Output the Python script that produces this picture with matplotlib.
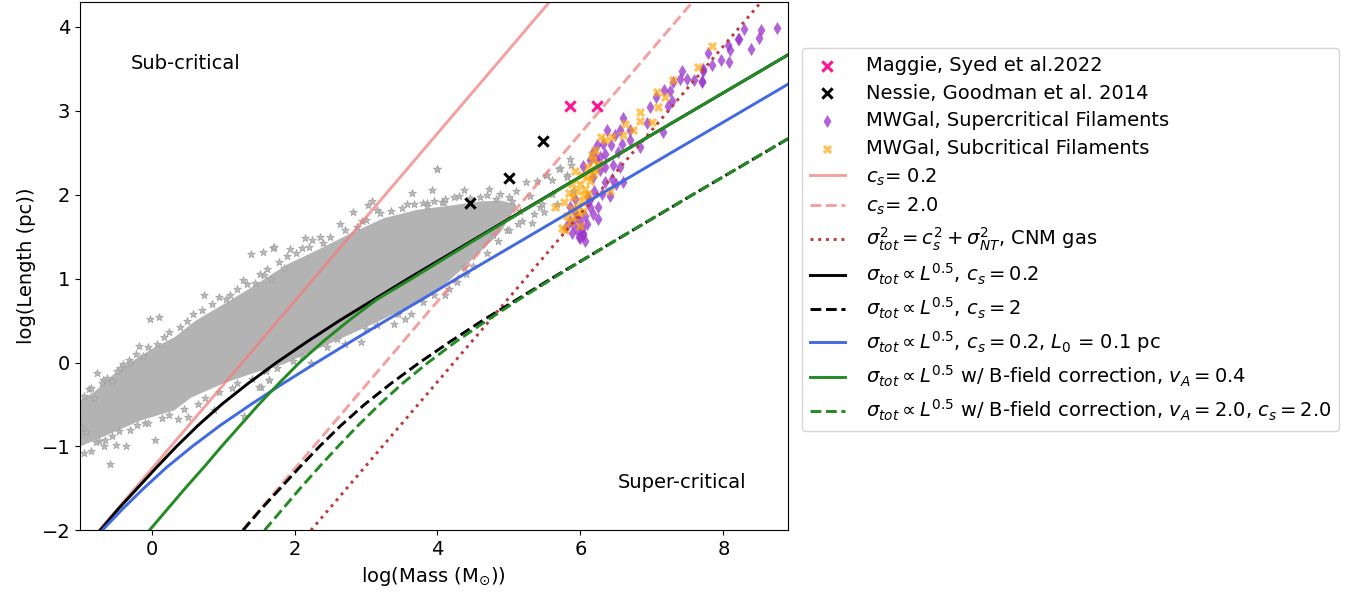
import numpy as np
import matplotlib
matplotlib.use("Agg")
import matplotlib.pyplot as plt

plt.rcParams["font.size"] = 14

# -------------------------------------------------------
# Data (log units)
# -------------------------------------------------------

# Maggie, Syed et al. 2022
maggie_x = [5.86, 6.23]
maggie_y = [3.06, 3.06]

# Nessie, Goodman et al. 2014
nessie_x = [4.46, 5.00, 5.48]
nessie_y = [1.90, 2.20, 2.64]

# MWGal supercritical filaments
super_x = [8.75, 8.52, 8.50, 8.38, 8.22, 8.06, 8.09, 8.08, 7.96, 7.78, 7.84, 7.72,
           7.70, 7.59, 7.49, 7.40, 7.42, 7.30, 7.26, 7.17, 7.28, 7.23, 6.98, 7.06,
           7.15, 6.93, 6.84, 6.60, 6.69, 6.56, 6.37, 6.49, 6.70, 6.58, 6.43, 6.32,
           6.23, 6.18, 6.35, 6.53, 6.04, 6.35, 6.46, 6.56, 6.44, 6.35, 6.60, 6.50,
           6.30, 6.42, 6.19, 6.11, 6.14, 6.25, 6.18, 6.07, 6.00, 5.90, 6.02, 5.95,
           6.09, 6.04, 6.25, 5.80, 5.85, 5.88, 5.93, 5.86, 6.18, 6.14, 6.27, 6.04,
           5.95, 8.29, 8.21, 7.72, 7.70, 6.00, 6.06, 5.98, 6.12, 6.22, 5.92, 6.28]
super_y = [3.99, 3.96, 3.87, 3.74, 3.86, 3.78, 3.72, 3.58, 3.60, 3.69, 3.54, 3.48,
           3.34, 3.37, 3.38, 3.38, 3.47, 3.34, 3.24, 3.25, 3.12, 3.06, 3.04, 3.17,
           2.75, 2.85, 2.57, 2.92, 2.77, 2.77, 2.77, 2.71, 2.65, 2.61, 2.59, 2.61,
           2.59, 2.51, 2.49, 2.51, 2.34, 2.33, 2.35, 2.33, 2.19, 2.15, 2.15, 2.13,
           2.01, 1.99, 2.05, 1.97, 1.85, 1.85, 1.77, 1.75, 1.69, 1.65, 1.60, 1.58,
           1.65, 1.52, 1.71, 1.61, 1.69, 1.54, 1.79, 1.85, 2.21, 2.41, 2.29, 1.54,
           1.73, 3.98, 3.86, 3.50, 3.36, 1.48, 1.45, 1.50, 1.92, 2.42, 1.95, 2.45]

# MWGal subcritical filaments
sub_x = [7.84, 7.65, 7.29, 7.07, 7.08, 7.19, 6.83, 6.84, 7.00, 6.74, 6.63, 6.60,
         6.44, 6.35, 6.29, 6.21, 6.16, 6.18, 6.25, 6.11, 6.18, 6.09, 6.02, 6.00,
         6.07, 5.95, 5.90, 6.02, 5.97, 5.88, 6.04, 5.93, 5.81, 5.77, 5.86, 6.00,
         5.79, 5.74, 5.65, 6.42, 6.11, 5.88, 5.92, 6.05, 5.84, 6.14, 5.98, 6.20]
sub_y = [3.77, 3.52, 3.37, 3.23, 3.05, 3.17, 2.98, 2.88, 2.87, 2.77, 2.84, 2.71,
         2.69, 2.65, 2.69, 2.53, 2.47, 2.41, 2.37, 2.33, 2.25, 2.21, 2.23, 2.13,
         2.07, 2.05, 1.97, 1.93, 1.87, 1.83, 1.81, 1.73, 1.75, 1.91, 1.67, 1.63,
         1.58, 1.60, 1.85, 2.05, 2.01, 2.13, 2.28, 2.00, 2.02, 2.16, 1.78, 2.30]

# dense core of the grey cloud (upper edge left->right, lower edge right->left)
cloud_top_x = [-1.05, -0.80, -0.45, 0.00, 0.32, 0.62, 1.02, 1.37, 1.90, 2.32,
               2.79, 3.25, 3.72, 4.18, 4.60, 4.90, 5.10]
cloud_top_y = [-0.48, -0.35, -0.08, 0.16, 0.30, 0.50, 0.70, 0.88, 1.17, 1.34,
               1.54, 1.72, 1.82, 1.87, 1.92, 1.93, 1.88]
cloud_bot_x = [5.10, 4.88, 4.60, 4.30, 4.04, 3.62, 3.25, 2.79, 2.32, 1.85, 1.45,
               1.00, 0.55, 0.32, -0.15, -0.50, -1.05]
cloud_bot_y = [1.85, 1.55, 1.32, 1.08, 0.88, 0.68, 0.52, 0.34, 0.16, -0.02, -0.12,
               -0.25, -0.42, -0.57, -0.69, -0.82, -1.02]

# scattered grey points around the cloud
grey_x = [1.39, 1.56, 1.70, -0.02, 0.10, 0.73, 1.33, 1.04, -0.76, -0.68, -0.87,
          -0.44, -0.17, -0.31, 0.05, -0.58, -0.36, -0.50, -0.66, -0.74, 0.37, 0.51,
          -0.09, 1.30, 1.53, 1.64, 0.88, -0.92, -0.98,
          3.99, 3.93, 3.64, 4.07, 3.85, 3.67, 3.57, 3.09, 3.03, 3.16, 2.82, 2.63,
          2.95, 2.36, 2.24, 2.14, 1.94, 1.72, 2.11, 1.85, 1.58, 1.67, 3.63, 3.39,
          2.93, 2.23, 1.65, 1.51,
          4.00, 4.37, 4.72, 4.88, 5.24, 5.39, 5.60, 5.81, 5.85, 5.87, 5.72, 5.53,
          5.30, 5.44, 5.35, 5.16, 5.32, 5.67, 5.04, 5.18, 4.97, 4.77, 4.37, 4.28,
          4.16, 3.86, 4.09, 4.23, 4.60, 5.70, 5.52, 5.81, 5.90, 5.46, 5.49, 5.60,
          -0.95, -0.85, -0.80, -0.70, -0.62, -0.55, -0.48, -0.40, -0.30, -0.22,
          -0.12, -0.05, 0.08, 0.18, 0.25, 0.40, 0.50, 0.58, 0.70, 0.85, 0.95, 1.10,
          1.20, 1.28, 1.45, 1.52, 1.62, 1.78, 1.90, 2.02, 2.20, 2.40, 2.50, 2.70,
          2.88, 3.00, 3.20, 3.35, 3.50, 3.80, 3.95, 4.10, 4.30, 4.45, 4.70, 4.82,
          5.00, 5.10,
          -0.95, -0.85, -0.78, -0.65, -0.55, -0.45, -0.30, -0.20, -0.05, 0.15,
          0.25, 0.45, 0.65, 0.75, 0.95, 1.12, 1.20, 1.40, 1.60, 1.75, 1.98, 2.10,
          2.45, 2.60, 2.70, 3.00, 3.15, 3.45, 3.55, 3.80, 3.95, 4.10, 4.40, 4.50,
          4.70, 4.85, 5.00, 5.12]
grey_y = [1.29, 1.32, 1.37, 0.52, 0.54, 0.81, 0.93, 0.76, -0.13, -0.21, -0.31,
          -0.06, 0.20, 0.03, -0.92, -1.21, -0.99, -0.98, -0.99, -0.93, -0.67, -0.65,
          -0.72, -0.64, -0.29, -0.21, -0.57, -0.83, -0.77,
          2.31, 2.06, 2.02, 1.91, 1.90, 1.89, 1.89, 1.93, 1.88, 1.82, 1.79, 1.65,
          1.69, 1.49, 1.46, 1.48, 1.35, 1.38, 1.37, 1.13, 1.04, 1.00, 0.58, 0.46,
          0.25, -0.01, -0.21, -0.29,
          2.31, 2.06, 2.07, 2.01, 2.15, 2.16, 2.18, 2.23, 2.42, 2.35, 2.32, 2.23,
          1.99, 1.85, 1.77, 1.81, 1.66, 1.89, 1.93, 1.69, 1.58, 1.52, 1.14, 0.96,
          0.88, 1.87, 1.91, 1.97, 1.97, 2.31, 2.24, 2.21, 2.05, 1.89, 1.79, 2.01,
          -0.40, -0.30, -0.42, -0.25, -0.18, -0.22, -0.10, -0.02, 0.00, 0.10,
          0.08, 0.18, 0.22, 0.30, 0.36, 0.42, 0.50, 0.58, 0.62, 0.70, 0.78, 0.80,
          0.88, 0.98, 0.95, 1.05, 1.12, 1.20, 1.27, 1.30, 1.38, 1.42, 1.50, 1.58,
          1.62, 1.70, 1.78, 1.80, 1.84, 1.90, 1.93, 1.95, 1.98, 1.96, 2.00, 1.95,
          1.97, 2.05,
          -1.08, -1.05, -0.95, -0.92, -0.88, -0.82, -0.80, -0.75, -0.72, -0.66,
          -0.63, -0.55, -0.50, -0.42, -0.35, -0.30, -0.24, -0.20, -0.10, -0.06,
          0.02, 0.08, 0.18, 0.28, 0.22, 0.40, 0.45, 0.58, 0.52, 0.72, 0.80, 0.80,
          1.05, 1.15, 1.30, 1.45, 1.58, 1.65]

# model curves: log(Mass) at the listed log(Length)
cs02_x = [-0.73, 5.57]
cs02_y = [-2.0, 4.3]
cs20_x = [1.27, 7.57]
cs20_y = [-2.0, 4.3]
cnm_x = [2.23, 8.53]
cnm_y = [-2.0, 4.3]

curve_y = [-2.0, -1.75, -1.5, -1.25, -1.0, -0.75, -0.5, -0.25, 0.0, 0.25, 0.5,
           0.75, 1.0, 1.5, 2.0, 2.5, 3.0, 3.5, 4.0]
larson02_x = [-0.72, -0.47, -0.20, 0.07, 0.35, 0.65, 0.98, 1.35, 1.75, 2.18, 2.63,
              3.11, 3.59, 4.58, 5.57, 6.57, 7.57, 8.57, 9.57]
larson2_x = [1.28, 1.53, 1.80, 2.07, 2.35, 2.65, 2.98, 3.35, 3.75, 4.18, 4.63,
             5.11, 5.59, 6.58, 7.57, 8.57, 9.57, 10.57, 11.57]
larson_L0_x = [-0.69, -0.41, -0.11, 0.21, 0.57, 0.96, 1.39, 1.84, 2.31, 2.79, 3.28,
               3.78, 4.27, 5.27, 6.27, 7.27, 8.27, 9.27, 10.27]
bfield04_x = [-0.03, 0.22, 0.47, 0.73, 0.98, 1.24, 1.50, 1.78, 2.07, 2.40, 2.76,
              3.15, 3.64, 4.60, 5.58, 6.57, 7.57, 8.57, 9.57]
bfield20_x = [1.58, 1.83, 2.08, 2.34, 2.61, 2.89, 3.19, 3.51, 3.87, 4.26, 4.69,
              5.14, 5.61, 6.58, 7.57, 8.57, 9.57, 10.57, 11.57]

# -------------------------------------------------------
# Plot
# -------------------------------------------------------

fig = plt.figure(figsize=(13.64, 5.98), dpi=100)
ax = fig.add_axes([0.0587, 0.1132, 0.5188, 0.8839])

ax.fill(cloud_top_x + cloud_bot_x, cloud_top_y + cloud_bot_y,
        color="#b3b3b3", lw=0, zorder=0.5)
ax.scatter(grey_x, grey_y, marker="*", s=32, c="#bcbcbc",
           edgecolors="#a4a4a4", linewidths=0.6, zorder=0.6)

h_maggie = ax.scatter(maggie_x, maggie_y, marker="x", s=55, c="deeppink",
                      linewidths=2.2, zorder=3, label="Maggie, Syed et al.2022")
h_nessie = ax.scatter(nessie_x, nessie_y, marker="x", s=55, c="black",
                      linewidths=2.2, zorder=3, label="Nessie, Goodman et al. 2014")
h_super = ax.scatter(super_x, super_y, marker="d", s=45, c="darkorchid",
                     alpha=0.75, linewidths=0, zorder=1,
                     label="MWGal, Supercritical Filaments")
h_sub = ax.scatter(sub_x, sub_y, marker="X", s=45, c="orange", alpha=0.65,
                   linewidths=0, zorder=1.1, label="MWGal, Subcritical Filaments")

lw = 2.1
l1, = ax.plot(cs02_x, cs02_y, "-", color="lightcoral", alpha=0.75, lw=lw,
              label="$c_s$= 0.2")
l2, = ax.plot(cs20_x, cs20_y, "--", color="lightcoral", alpha=0.75, lw=lw,
              label="$c_s$= 2.0")
l3, = ax.plot(cnm_x, cnm_y, ":", color="#c0393b", lw=lw,
              label=r"$\sigma_{tot}^2 = c_s^2 + \sigma_{NT}^2$, CNM gas")
l4, = ax.plot(larson02_x, curve_y, "-", color="black", lw=lw,
              label=r"$\sigma_{tot} \propto L^{0.5}$, $c_s = 0.2$")
l5, = ax.plot(larson2_x, curve_y, "--", color="black", lw=lw,
              label=r"$\sigma_{tot} \propto L^{0.5}$, $c_s = 2$")
l6, = ax.plot(larson_L0_x, curve_y, "-", color="royalblue", lw=lw,
              label=r"$\sigma_{tot} \propto L^{0.5}$, $c_s = 0.2$, $L_0$ = 0.1 pc")
l7, = ax.plot(bfield04_x, curve_y, "-", color="forestgreen", lw=lw,
              label=r"$\sigma_{tot} \propto L^{0.5}$ w/ B-field correction, $v_A = 0.4$")
l8, = ax.plot(bfield20_x, curve_y, "--", color="forestgreen", lw=lw,
              label=r"$\sigma_{tot} \propto L^{0.5}$ w/ B-field correction, $v_A = 2.0$, $c_s = 2.0$")

ax.text(-0.29, 3.56, "Sub-critical", va="center", ha="left")
ax.text(6.52, -1.43, "Super-critical", va="center", ha="left")

ax.set_xlim(-1, 8.9)
ax.set_ylim(-2, 4.3)
ax.set_xticks([0, 2, 4, 6, 8])
ax.set_yticks([-2, -1, 0, 1, 2, 3, 4])
ax.set_xlabel(r"log(Mass (M$_{\odot}$))")
ax.set_ylabel("log(Length (pc))")

ax.legend(handles=[h_maggie, h_nessie, h_super, h_sub, l1, l2, l3, l4, l5, l6, l7, l8],
          loc="upper left", bbox_to_anchor=(1.02, 0.912), scatterpoints=1,
          fontsize=14, labelspacing=0.44, handlelength=1.8, handletextpad=1.1,
          borderaxespad=0)

fig.savefig("out.png", dpi=100)
